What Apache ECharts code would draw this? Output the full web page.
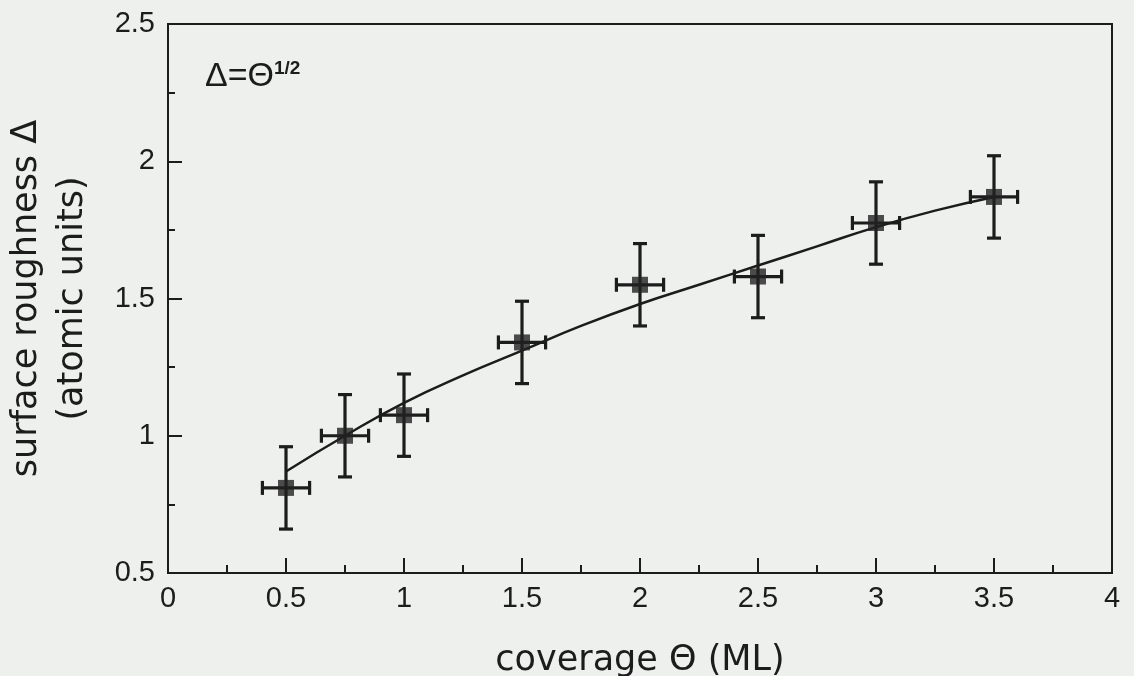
<!DOCTYPE html>
<html>
<head>
<meta charset="utf-8">
<script src="https://cdn.jsdelivr.net/npm/echarts@6/dist/echarts.min.js"></script>
<style>
html,body{margin:0;padding:0;background:#eef0ed;}
#chart{width:1134px;height:676px;}
</style>
</head>
<body>
<div id="chart"></div>
<script>
// measured points
const coverage  = [0.5, 0.75, 1.0, 1.5, 2.0, 2.5, 3.0, 3.5];
const roughness = [0.81, 1.00, 1.075, 1.34, 1.55, 1.58, 1.775, 1.87];
const coverageErr  = [0.1, 0.1, 0.1, 0.1, 0.1, 0.1, 0.1, 0.1];
const roughnessErr = [0.15, 0.15, 0.15, 0.15, 0.15, 0.15, 0.15, 0.15];
// fitted curve
const fitX = [0.5, 0.75, 1.0, 1.25, 1.5, 1.75, 2.0, 2.25, 2.5, 2.75, 3.0, 3.25, 3.5];
const fitY = [0.87, 1.00, 1.12, 1.22, 1.31, 1.40, 1.48, 1.55, 1.62, 1.69, 1.76, 1.82, 1.87];

const ink = '#1c1c1c';
const chart = echarts.init(document.getElementById('chart'));

const pts = coverage.map((x, i) => [x, roughness[i], coverageErr[i], roughnessErr[i]]);
const fit = fitX.map((x, i) => [x, fitY[i]]);

chart.setOption({
  backgroundColor: '#eef0ed',
  animation: false,
  grid: { left: 168, right: 22, top: 24, bottom: 103, outerBoundsMode: 'none', containLabel: false,
          show: true, borderColor: ink, borderWidth: 2, backgroundColor: 'transparent' },
  xAxis: {
    type: 'value', min: 0, max: 4, interval: 0.5,
    name: 'coverage \u0398 (ML)', nameLocation: 'middle', nameGap: 70,
    nameTextStyle: { fontFamily: 'DejaVu Sans', fontSize: 35, color: ink },
    axisLine: { lineStyle: { color: ink, width: 2 } },
    axisTick: { inside: true, length: 15, lineStyle: { color: ink, width: 2 } },
    minorTick: { show: true, splitNumber: 2, length: 8, lineStyle: { color: ink, width: 2 } },
    axisLabel: { fontFamily: 'Liberation Sans', fontSize: 29, color: ink, margin: 11 },
    splitLine: { show: false }
  },
  yAxis: {
    type: 'value', min: 0.5, max: 2.5, interval: 0.5,
    name: 'surface roughness \u0394\n(atomic units)', nameLocation: 'middle', nameGap: 72, nameRotate: 90,
    nameTextStyle: { fontFamily: 'DejaVu Sans', fontSize: 35, color: ink, lineHeight: 46, align: 'center' },
    axisLine: { lineStyle: { color: ink, width: 2 } },
    axisTick: { inside: true, length: 14, lineStyle: { color: ink, width: 2 } },
    minorTick: { show: true, splitNumber: 2, length: 7, lineStyle: { color: ink, width: 2 } },
    axisLabel: { fontFamily: 'Liberation Sans', fontSize: 29, color: ink, margin: 13 },
    splitLine: { show: false }
  },
  graphic: [
    { type: 'text', left: 205, top: 60, style: { text: '\u0394=\u0398', font: '34px "Liberation Sans"', fill: ink } },
    { type: 'text', left: 274, top: 59, style: { text: '1/2', font: 'bold 19px "Liberation Sans"', fill: ink } }
  ],
  series: [
    {
      type: 'line', data: fit, smooth: true, showSymbol: false, symbol: 'none',
      lineStyle: { color: ink, width: 2.5 }, z: 2
    },
    {
      type: 'custom', data: pts, encode: { x: 0, y: 1 }, z: 3,
      renderItem: function (params, api) {
        const x = api.value(0), y = api.value(1), ex = api.value(2), ey = api.value(3);
        const t = api.coord([x, y + ey]), b = api.coord([x, y - ey]);
        const l = api.coord([x - ex, y]), r = api.coord([x + ex, y]);
        const cap = 7;
        const st = { stroke: ink, lineWidth: 3.2 };
        const ln = (x1, y1, x2, y2) => ({ type: 'line', shape: { x1, y1, x2, y2 }, style: st });
        return {
          type: 'group',
          children: [
            ln(t[0], t[1], b[0], b[1]),
            ln(t[0] - cap, t[1], t[0] + cap, t[1]),
            ln(b[0] - cap, b[1], b[0] + cap, b[1]),
            ln(l[0], l[1], r[0], r[1]),
            ln(l[0], l[1] - cap, l[0], l[1] + cap),
            ln(r[0], r[1] - cap, r[0], r[1] + cap)
          ]
        };
      }
    },
    {
      type: 'scatter', data: pts.map(p => [p[0], p[1]]), symbol: 'rect', symbolSize: 16,
      itemStyle: { color: '#222' }, z: 4
    }
  ]
});
</script>
</body>
</html>
